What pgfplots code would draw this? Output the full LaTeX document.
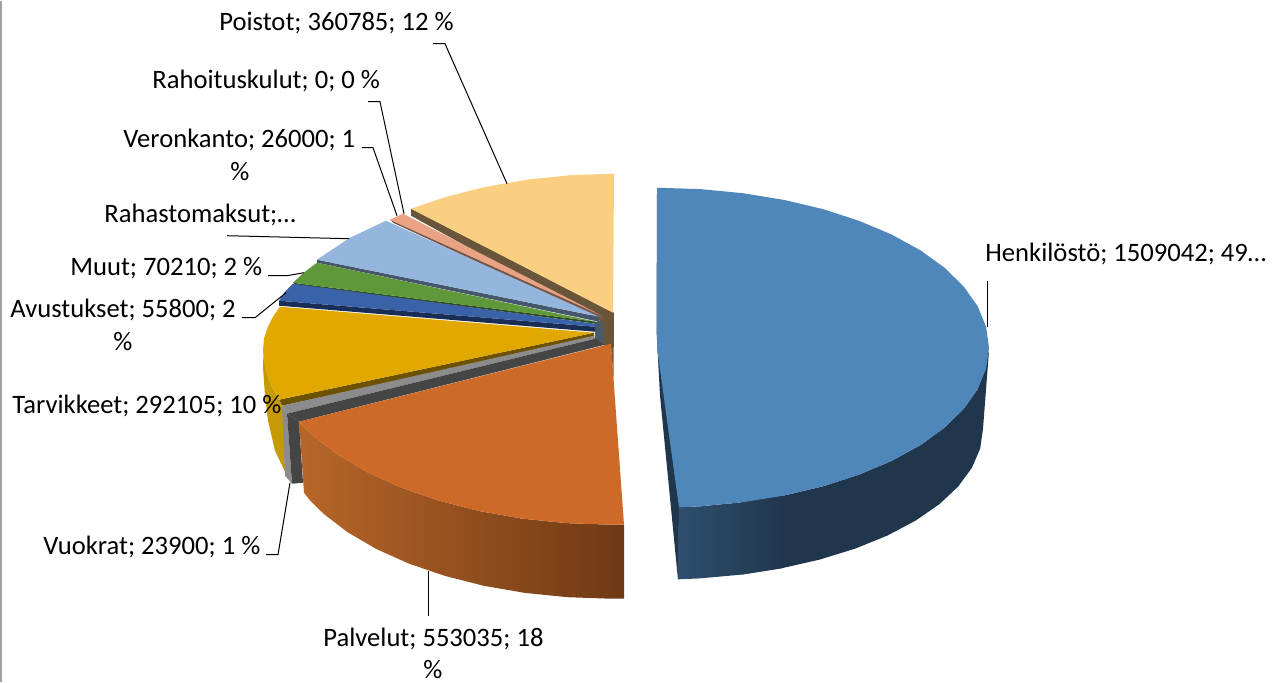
\documentclass[border=0pt]{standalone}
\usepackage{pgfplots}
\pgfplotsset{compat=1.18}
\usepackage{fontspec}
\setmainfont{Carlito}
\definecolor{bluetop}{HTML}{4F87BA}
\definecolor{bluewall}{HTML}{20364D}
\definecolor{bluewallL}{HTML}{2E4F6D}
\definecolor{orangetop}{HTML}{CD6A27}
\definecolor{orangeL}{HTML}{B86628}
\definecolor{orangeM}{HTML}{98521F}
\definecolor{orangeR}{HTML}{6F3915}
\definecolor{yellowtop}{HTML}{E0A800}
\definecolor{yellowwall}{HTML}{C69A07}
\definecolor{yellowside}{HTML}{6B5100}
\definecolor{greytop}{HTML}{8C8C8C}
\definecolor{greyside}{HTML}{454545}
\definecolor{navytop}{HTML}{3A62A8}
\definecolor{navyside}{HTML}{1A2E55}
\definecolor{greentop}{HTML}{5F973B}
\definecolor{greenside}{HTML}{2F4A1D}
\definecolor{skytop}{HTML}{95B6DC}
\definecolor{skyside}{HTML}{46566B}
\definecolor{salmontop}{HTML}{E9A284}
\definecolor{salmonside}{HTML}{7A5647}
\definecolor{sandtop}{HTML}{FACF82}
\definecolor{sandside}{HTML}{69553A}
\definecolor{hub}{HTML}{4A5A66}
\definecolor{frameline}{HTML}{A0A0A0}
\newcommand{\lab}[3]{\node[anchor=base west,inner sep=0pt,font=\fontsize{13.3}{15}\selectfont] at (axis cs:#1,#2) {#3};}
\newcommand{\labc}[3]{\node[anchor=base,inner sep=0pt,font=\fontsize{13.3}{15}\selectfont] at (axis cs:#1,#2) {#3};}
\begin{document}
\begin{tikzpicture}
\begin{axis}[scale only axis,width=639.5pt,height=340.5pt,xmin=0,xmax=1279,ymin=0,ymax=681,y dir=reverse,hide axis,clip=false,no markers]
\addplot[draw=none,fill=white] coordinates {(0,0)(1279,0)(1279,681)(0,681)} -- cycle;
\addplot[frameline,line width=0.7pt] coordinates {(1,0)(1,681)};
% hub
\addplot[draw=none,fill=hub] coordinates {(595,322)(603,318)(605,345)(595,342)} -- cycle;
% Poistot
\addplot[draw=none,fill=sandside] coordinates {(411,208)(411,215)(603,321)(604,345)(611,345)(613.5,378)(614,312)} -- cycle;
\addplot[draw=none,fill=sandtop] coordinates {(614,173)(570.3,174.5)(527.3,178.9)(485.8,186.1)(446.5,196)(411,208)(613,312)} -- cycle;
% Rahoituskulut / Veronkanto
\addplot[draw=none,fill=salmonside] coordinates {(390,219)(393,222)(603,320)(602,315)} -- cycle;
\addplot[draw=none,fill=salmontop] coordinates {(390,219)(403,213)(602,315)} -- cycle;
% Rahastomaksut
\addplot[draw=none,fill=skyside] coordinates {(317,259)(317,262)(599,321)(599,316)} -- cycle;
\addplot[draw=none,fill=skytop] coordinates {(317,259)(350,237)(386,220)(599,316)} -- cycle;
% Muut
\addplot[draw=none,fill=greenside] coordinates {(293,282)(295,284)(596,323)(596,321)} -- cycle;
\addplot[draw=none,fill=greentop] coordinates {(293,282)(305,271)(317,262)(596,321)} -- cycle;
% Avustukset
\addplot[draw=none,fill=navyside] coordinates {(279,300)(279,305)(595,331)(595,326)} -- cycle;
\addplot[draw=none,fill=navytop] coordinates {(279,300)(285,291)(293,283)(595,323)(595,326)} -- cycle;
% Tarvikkeet
\addplot[draw=none,fill=yellowwall] coordinates {(263,355)(263,367)(265,395)(268,420)(275,450)(285,471)(283,408)(279,399)(272,386)(267,374)} -- cycle;
\addplot[draw=none,fill=yellowside] coordinates {(279,399)(282,405)(594,337)(594,332)} -- cycle;
\addplot[draw=none,fill=yellowtop] coordinates {(280,306)(273,316)(268,326)(264,338)(263,350)(264,362)(267,374)(272,386)(279,399)(594,332)} -- cycle;
% Vuokrat
\addplot[draw=none,fill=greytop] coordinates {(282,405)(287,413)(292,483)(285,475)} -- cycle;
\addplot[draw=none,fill=greyside] coordinates {(287,413)(299,421)(303,482)(292,483)} -- cycle;
\addplot[draw=none,fill=greytop] coordinates {(282,405)(287,413)(595,338)(594,335)} -- cycle;
\addplot[draw=none,fill=greyside] coordinates {(287,413)(299,421)(605,344)(595,338)} -- cycle;
% Palvelut
\addplot[draw=none,left color=orangeL,middle color=orangeM,right color=orangeR] coordinates {(299,421)(300,422.3)(311.4,433.5)(336.5,453.2)(366.3,471)(400.4,486.6)(438,499.7)(478.6,510.2)(521.4,517.8)(565.8,522.4)(611,524)(624,524)(624,598)(611,598)(567.7,596.5)(525.1,592.2)(483.9,585.1)(445,575.2)(408.9,562.9)(376.2,548.2)(347.6,531.5)(323.5,513)(310.1,499.8)(304,492)} -- cycle;
\addplot[draw=none,fill=orangetop] coordinates {(611,343)(299,421)(311.4,433.5)(336.5,453.2)(366.3,471)(400.4,486.6)(438,499.7)(478.6,510.2)(521.4,517.8)(565.8,522.4)(611,524)(624,524)} -- cycle;
% Henkilosto
\addplot[draw=none,fill=bluewall] coordinates {(657,190)(656.5,330)(660,395)(678,579)(680,506)} -- cycle;
\addplot[draw=none,fill=bluewall] coordinates {(989,350)(983,428)(980.2,447.7)(971.9,467.1)(958.2,485.8)(939.3,503.5)(915.6,519.9)(887.5,534.8)(855.5,547.8)(820,558.8)(781.8,567.5)(741.4,573.9)(741,501)(784.1,494.8)(823,485.6)(859.1,473.9)(891.8,460.1)(920.4,444.4)(944.5,427)(963.7,408.2)(977.7,388.4)} -- cycle;
\addplot[draw=none,left color=bluewallL,right color=bluewall] coordinates {(679,506.6)(700.3,505.6)(742.9,501.5)(784.1,494.8)(781.8,567.5)(741.4,573.9)(699.5,577.7)(678,578.6)} -- cycle;
\addplot[draw=none,fill=bluetop] coordinates {(657,187)(700.3,188.4)(742.9,192.5)(784.1,199.2)(823,208.4)(859.1,220.1)(891.8,233.9)(920.4,249.6)(944.5,267)(963.7,285.8)(977.7,305.6)(986.1,326.1)(989,347)(986.1,367.9)(977.7,388.4)(963.7,408.2)(944.5,427)(920.4,444.4)(891.8,460.1)(859.1,473.9)(823,485.6)(784.1,494.8)(742.9,501.5)(700.3,505.6)(679,506.6)(657,347)} -- cycle;
% leaders
\addplot[black,line width=0.5pt] coordinates {(433,43)(445,43)(507,183)};
\addplot[black,line width=0.5pt] coordinates {(368,101)(380,101)(404,213)};
\addplot[black,line width=0.5pt] coordinates {(362,147)(373,147)(397,215)};
\addplot[black,line width=0.5pt] coordinates {(227,235)(349,238)};
\addplot[black,line width=0.5pt] coordinates {(268,275)(287,275)(304,272)};
\addplot[black,line width=0.5pt] coordinates {(242,317)(255,317)(286,292)};
\addplot[black,line width=0.5pt] coordinates {(266,554)(278,554)(290,482)};
\addplot[black,line width=0.5pt] coordinates {(428,570)(428,615)};
\addplot[black,line width=0.5pt] coordinates {(987,280)(987,326)};
% labels
\lab{219}{30}{Poistot; 360785; 12 \%}
\lab{152}{88}{Rahoituskulut; 0; 0 \%}
\lab{123}{147}{Veronkanto; 26000; 1}
\labc{240}{180}{\%}
\lab{104}{222}{Rahastomaksut;…}
\lab{70}{275}{Muut; 70210; 2 \%}
\lab{10}{317}{Avustukset; 55800; 2}
\labc{123}{350}{\%}
\lab{12}{413}{Tarvikkeet; 292105; 10 \%}
\lab{43}{554}{Vuokrat; 23900; 1 \%}
\lab{323}{646}{Palvelut; 553035; 18}
\labc{433}{678}{\%}
\lab{985}{261}{Henkilöstö; 1509042; 49…}
\end{axis}
\end{tikzpicture}
\end{document}
